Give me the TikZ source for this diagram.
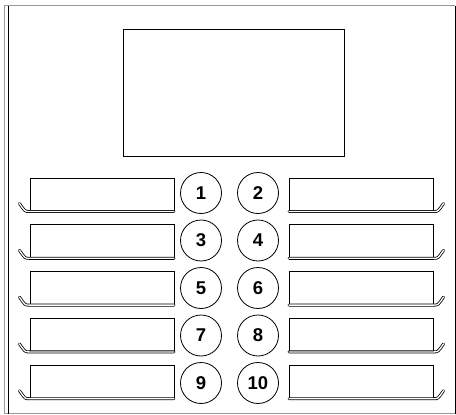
\documentclass[tikz,border=0pt]{standalone}
\usepackage{fontspec}
\setmainfont{Liberation Sans}

\tikzset{
  keynum/.style={draw,thick,circle,minimum size=41pt,inner sep=0pt,
    font=\fontsize{18.5}{20}\selectfont\bfseries},
  tray/.style={double,double distance=1.3pt,line width=0.8pt,line cap=round}
}

\begin{document}
\begin{tikzpicture}[x=1pt,y=-1pt]
        \useasboundingbox (0,0) rectangle (456,415);
        % housing
        \draw[gray!80,line width=1.2pt] (4.5,413.5) -- (4.5,5.5) -- (455,5.5);
        \draw[gray!80,line width=1.2pt] (4.5,413.5) -- (455,413.5);
        \draw[thick] (8,5.5) -- (8,413.5);
        \draw[thick] (455,5.5) -- (455,413.5);
        % display
        \draw[thick] (123,29) rectangle (344,156);

        % label boxes
        \foreach \r in {0,...,4}{
          \pgfmathsetmacro{\ytop}{178+46.8*\r}
          \pgfmathsetmacro{\ybot}{\ytop+33.5}
          \draw[thick] (30,\ybot) -- (30,\ytop) -- (174,\ytop) -- (174,\ybot);
          \draw[tray] (174,\ybot) -- (29,\ybot) .. controls (25,\ybot) .. (19.5,\ybot-8);
          \draw[thick] (289,\ybot) -- (289,\ytop) -- (433,\ytop) -- (433,\ybot);
          \draw[tray] (289,\ybot) -- (434,\ybot) .. controls (438,\ybot) .. (443.5,\ybot-8);
        }

        % keys
        \foreach \r in {0,...,4}{
          \pgfmathtruncatemacro{\ka}{2*\r+1}
          \pgfmathtruncatemacro{\kb}{2*\r+2}
          \node[keynum] (b\ka) at (201,193+47.5*\r) {\ka};
          \node[keynum] (b\kb) at (258,193+47.5*\r) {\kb};
        }
      \end{tikzpicture}
\end{document}
